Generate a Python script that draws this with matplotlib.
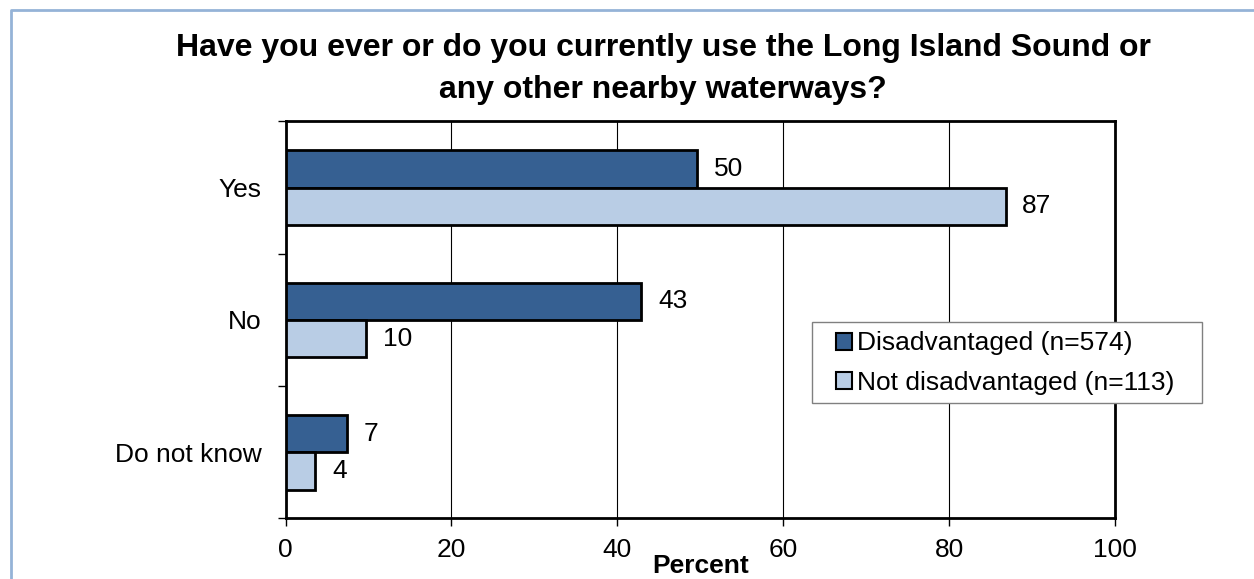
import matplotlib
matplotlib.use("Agg")
import matplotlib.pyplot as plt
from matplotlib.lines import Line2D
from matplotlib.patches import Patch, Rectangle

plt.rcParams["font.family"] = ["Liberation Sans", "DejaVu Sans"]

categories = ["Yes", "No", "Do not know"]
disadv     = [49.6, 42.9, 7.4]
not_disadv = [86.8, 9.7, 3.6]
series_names = ["Disadvantaged (n=574)", "Not disadvantaged (n=113)"]

DARK  = "#366092"
LIGHT = "#B9CDE5"
W, H = 1254, 579

fig = plt.figure(figsize=(12.54, 5.79), dpi=100)
ax = fig.add_axes([0.2277, 0.1045, 0.6615, 0.6857])

# outer frame of the original chart (only left and top edges visible)
bx, by = 11 / W, 1 - 9.5 / H
fig.add_artist(Line2D([bx, bx, 1.0], [0.0, by, by], transform=fig.transFigure,
                      color="#95B3D7", lw=2))

h = 0.283
y = list(range(len(categories)))
ax.barh([i - h / 2 for i in y], disadv, height=h, color=DARK,
        edgecolor="black", linewidth=2, zorder=3)
ax.barh([i + h / 2 for i in y], not_disadv, height=h, color=LIGHT,
        edgecolor="black", linewidth=2, zorder=3)

for i in y:
    ax.annotate(f"{disadv[i]:.0f}", (disadv[i], i - h / 2), xytext=(12, 0),
                textcoords="offset points", va="center", ha="left", fontsize=19)
    ax.annotate(f"{not_disadv[i]:.0f}", (not_disadv[i], i + h / 2), xytext=(12, 0),
                textcoords="offset points", va="center", ha="left", fontsize=19)

ax.set_xlim(0, 100)
ax.set_ylim(2.5, -0.5)
ax.set_xticks([0, 20, 40, 60, 80, 100])
ax.tick_params(axis="x", labelsize=19, length=6, width=1, pad=8, direction="out")

ax.set_yticks([-0.5, 0.5, 1.5, 2.5])
ax.set_yticklabels([])
ax.set_yticks(y, minor=True)
ax.set_yticklabels(categories, minor=True)
ax.tick_params(axis="y", which="major", length=6, width=1, direction="out")
ax.tick_params(axis="y", which="minor", length=0, labelsize=19, pad=17)

ax.grid(axis="x", color="black", linewidth=0.8, zorder=0)
ax.set_axisbelow(True)
for sp in ax.spines.values():
    sp.set_linewidth(2)

ax.set_xlabel("Percent", fontsize=19, fontweight="bold", labelpad=-6)

fig.text(0.5287, 1 - 69 / H,
         "Have you ever or do you currently use the Long Island Sound or\nany other nearby waterways?",
         ha="center", va="center", fontsize=23, fontweight="bold", linespacing=1.5)

# legend box drawn by hand (Excel style: wide frame, text left-aligned)
fig.add_artist(Rectangle((812 / W, 1 - 403 / H), 390 / W, 81 / H,
                         transform=fig.transFigure, facecolor="white",
                         edgecolor="#808080", linewidth=1, zorder=4))
handles = [Patch(facecolor=DARK, edgecolor="black", linewidth=1.5),
           Patch(facecolor=LIGHT, edgecolor="black", linewidth=1.5)]
leg = fig.legend(handles, series_names, loc="center left",
                 bbox_to_anchor=(836 / W, 1 - 363 / H), bbox_transform=fig.transFigure,
                 borderaxespad=0, borderpad=0, fontsize=19, frameon=False,
                 handlelength=0.6, handleheight=0.6,
                 handletextpad=0.2, labelspacing=0.57)
leg.set_zorder(5)

plt.savefig("out.png", dpi=100)
